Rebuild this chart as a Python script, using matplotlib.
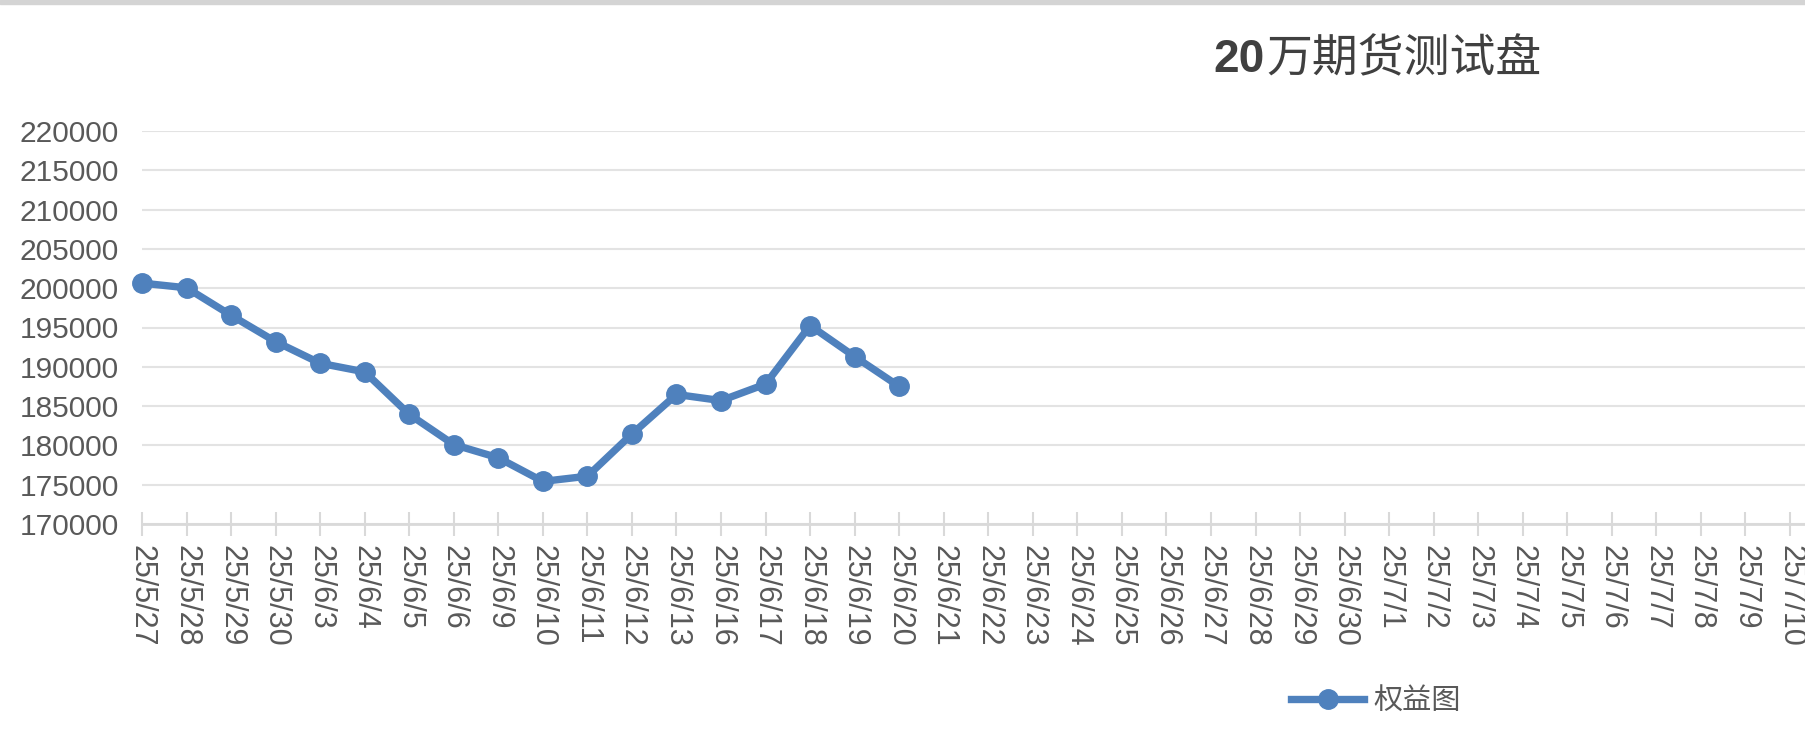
import matplotlib
matplotlib.use("Agg")
from matplotlib import pyplot as plt
from matplotlib.patches import Rectangle

dates = ["25/5/27", "25/5/28", "25/5/29", "25/5/30", "25/6/3", "25/6/4",
         "25/6/5", "25/6/6", "25/6/9", "25/6/10", "25/6/11", "25/6/12",
         "25/6/13", "25/6/16", "25/6/17", "25/6/18", "25/6/19", "25/6/20",
         "25/6/21", "25/6/22", "25/6/23", "25/6/24", "25/6/25", "25/6/26",
         "25/6/27", "25/6/28", "25/6/29", "25/6/30", "25/7/1", "25/7/2",
         "25/7/3", "25/7/4", "25/7/5", "25/7/6", "25/7/7", "25/7/8",
         "25/7/9", "25/7/10"]
equity = [200650, 200050, 196550, 193200, 190450, 189350, 183950, 180100,
          178420, 175420, 176080, 181450, 186480, 185700, 187800, 195250,
          191300, 187500]
yticks = list(range(170000, 220001, 5000))

title_num = "20"
title_cjk = "万期货测试盘"
legend_label = "权益图"

blue = "#4f81bd"
grey_txt = "#595959"
W, H = 1806, 740

fig = plt.figure(figsize=(W / 100, H / 100), dpi=100)
ax = fig.add_axes([142 / W, 1 - 524 / H, 1 - 142 / W, (524 - 131) / H])

# top grey band like the screenshot
fig.patches.append(Rectangle((0, 1 - 4 / H), 1, 4 / H, transform=fig.transFigure,
                             color="#d4d4d4", zorder=0))

x = list(range(len(equity)))
line, = ax.plot(x, equity, color=blue, lw=5.3, marker="o", markersize=14,
                clip_on=False, zorder=3, label=legend_label)

ax.set_xlim(0, len(dates) - 1 + 16 / 44.6)
ax.set_ylim(170000, 220000)
ax.set_xticks(range(len(dates)))
ax.set_xticklabels(dates, rotation=270, ha="center", va="top",
                   fontsize=22, color=grey_txt, family="Liberation Sans")
ax.set_yticks(yticks)
ax.set_yticklabels([str(v) for v in yticks], fontsize=21.5, color=grey_txt,
                   family="Liberation Sans")

ax.tick_params(axis="y", length=0, pad=16.5)
ax.tick_params(axis="x", direction="inout", length=17, width=1.5,
               color="#d9d9d9", pad=6.5)

for s in ["left", "right", "top"]:
    ax.spines[s].set_visible(False)
ax.spines["bottom"].set_color("#d9d9d9")
ax.spines["bottom"].set_linewidth(2)

ax.yaxis.grid(True, color="#e3e3e3", lw=1.5)
ax.set_axisbelow(True)

# title: bold digits + regular CJK
fig.text(1265 / W, 1 - 72 / H, title_num, ha="right", va="baseline",
         fontsize=33, fontweight="bold", color="#404040", family="Liberation Sans")
fig.text(1266 / W, 1 - 72 / H, title_cjk, ha="left", va="baseline",
         fontsize=33, color="#404040", family=["Noto Sans CJK SC", "DejaVu Sans"])

leg = fig.legend(handles=[line], loc="center", bbox_to_anchor=(1376 / W, 1 - 701 / H),
                 frameon=False, handlelength=2.5, handletextpad=0.3, borderpad=0,
                 prop={"family": ["Noto Sans CJK SC", "DejaVu Sans"], "size": 21})
for t in leg.get_texts():
    t.set_color(grey_txt)

plt.savefig("out.png", dpi=100)
